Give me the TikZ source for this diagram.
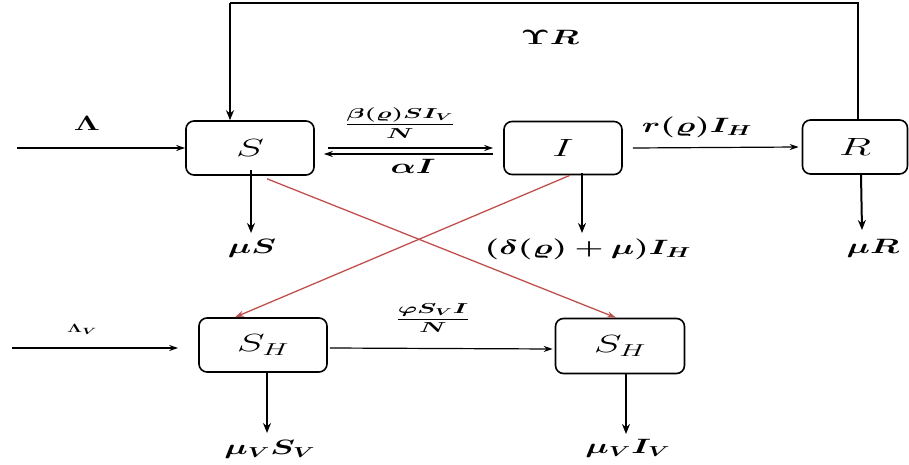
\documentclass[tikz,border=0pt]{standalone}
\usepackage{amsmath,bm,graphicx}
\usetikzlibrary{arrows.meta}
\definecolor{redline}{RGB}{192,80,77}
\newcommand{\wbox}[1]{\scalebox{1.7}[1]{#1}}
\newcommand{\wlab}[1]{\scalebox{1.6}[1]{#1}}
\newcommand{\wfrac}[1]{\scalebox{1.8}[1]{#1}}
\tikzset{
  comp/.style={draw,line width=1.6pt,rounded corners=8pt,inner sep=0pt,font=\fontsize{24}{26}\selectfont},
  flow/.style={line width=1.2pt,-{Stealth[length=9pt,width=6pt]}},
  outflow/.style={line width=2pt,-{Stealth[length=10pt,width=8pt]}},
  feed/.style={line width=1.8pt},
  infect/.style={line width=1.3pt,draw=redline,-{Stealth[length=9pt,width=6pt]},redline},
  lab/.style={font=\fontsize{20}{22}\selectfont,inner sep=1pt},
  fraclab/.style={font=\fontsize{14}{16}\selectfont,inner sep=1pt}
}
\begin{document}
\begin{tikzpicture}[x=1pt,y=-1pt]
\useasboundingbox (0,0) rectangle (909,465);
% compartments
\node[comp,minimum width=128pt,minimum height=54pt] (S) at (250,148) {\wbox{$S$}};
\node[comp,minimum width=118pt,minimum height=53pt] (I) at (563,148) {\wbox{$I$}};
\node[comp,minimum width=105pt,minimum height=54pt] (R) at (855,147) {\wbox{$R$}};
\node[comp,minimum width=128pt,minimum height=54pt] (SH1) at (263,345) {\wbox{$S_H$}};
\node[comp,minimum width=129pt,minimum height=55pt] (SH2) at (620,346) {\wbox{$S_H$}};
% free ends
\coordinate (topL) at (230,3);
\coordinate (topR) at (858,3);
\coordinate (lamS) at (17,148);
\coordinate (lamV) at (12,348);
\coordinate (dS) at (251,233);
\coordinate (dI) at (582,233);
\coordinate (dR) at (862,230);
\coordinate (dSH1) at (267,433);
\coordinate (dSH2) at (626,434);
% feedback R -> S
\draw[feed] (R.north -| topR) -- (topR) -- (topL);
\draw[outflow,line width=1.8pt] (topL) -- (topL |- S.north);
% inflows
\draw[flow] (lamS) -- (S.west);
\draw[flow] (lamV) -- ([xshift=-20pt,yshift=-3pt]SH1.west);
% S <-> I
\draw[flow] ([xshift=13pt]S.east) -- ([xshift=-10pt]I.west);
\draw[flow] ([xshift=-10pt,yshift=-6pt]I.west) -- ([xshift=9pt,yshift=-6pt]S.east);
% I -> R
\draw[flow] ([xshift=10pt]I.east) -- ([xshift=-3pt]R.west);
% SH1 -> SH2
\draw[flow] ([xshift=2pt,yshift=-3pt]SH1.east) -- ([xshift=-2pt,yshift=-3pt]SH2.west);
% outflows
\draw[outflow] (S.south -| dS) ++(0,-6) -- (dS);
\draw[outflow] (I.south -| dI) ++(0,-2) -- (dI);
\draw[outflow] (R.south -| 861,0) -- (dR);
\draw[outflow] (SH1.south -| dSH1) -- (dSH1);
\draw[outflow] (SH2.south -| dSH2) -- (dSH2);
% infection (red)
\draw[infect] ([xshift=17pt,yshift=-3pt]S.south) -- ([xshift=-4pt]SH2.north);
\draw[infect] ([xshift=7pt]I.south) -- ([xshift=-28pt]SH1.north);
% labels
\node[lab] (lUR) at (550,37) {\wlab{$\bm{\Upsilon R}$}};
\node[lab] (lLam) at (87,123) {\wlab{$\bm{\Lambda}$}};
\node[fraclab] (lbeta) at (400,123) {\wfrac{$\dfrac{\bm{\beta(\varrho)SI_V}}{\bm{N}}$}};
\node[lab] (lalpha) at (413,166) {\wlab{$\bm{\alpha I}$}};
\node[lab] (lr) at (697,127) {\wlab{$\bm{r(\varrho)I_H}$}};
\node[lab] (lmuS) at (252,248) {\wlab{$\bm{\mu S}$}};
\node[lab] (ldelta) at (588,249) {\wlab{$\bm{(\delta(\varrho)+\mu)I_H}$}};
\node[lab] (lmuR) at (873,248) {\wlab{$\bm{\mu R}$}};
\node[lab,font=\fontsize{13}{15}\selectfont] (lLamV) at (82,329) {\wlab{$\bm{\Lambda_V}$}};
\node[fraclab] (lphi) at (433,318) {\wfrac{$\dfrac{\bm{\varphi S_V I}}{\bm{N}}$}};
\node[lab] (lmuVS) at (270,449) {\wlab{$\bm{\mu_V S_V}$}};
\node[lab] (lmuVI) at (628,448) {\wlab{$\bm{\mu_V I_V}$}};
\end{tikzpicture}
\end{document}
